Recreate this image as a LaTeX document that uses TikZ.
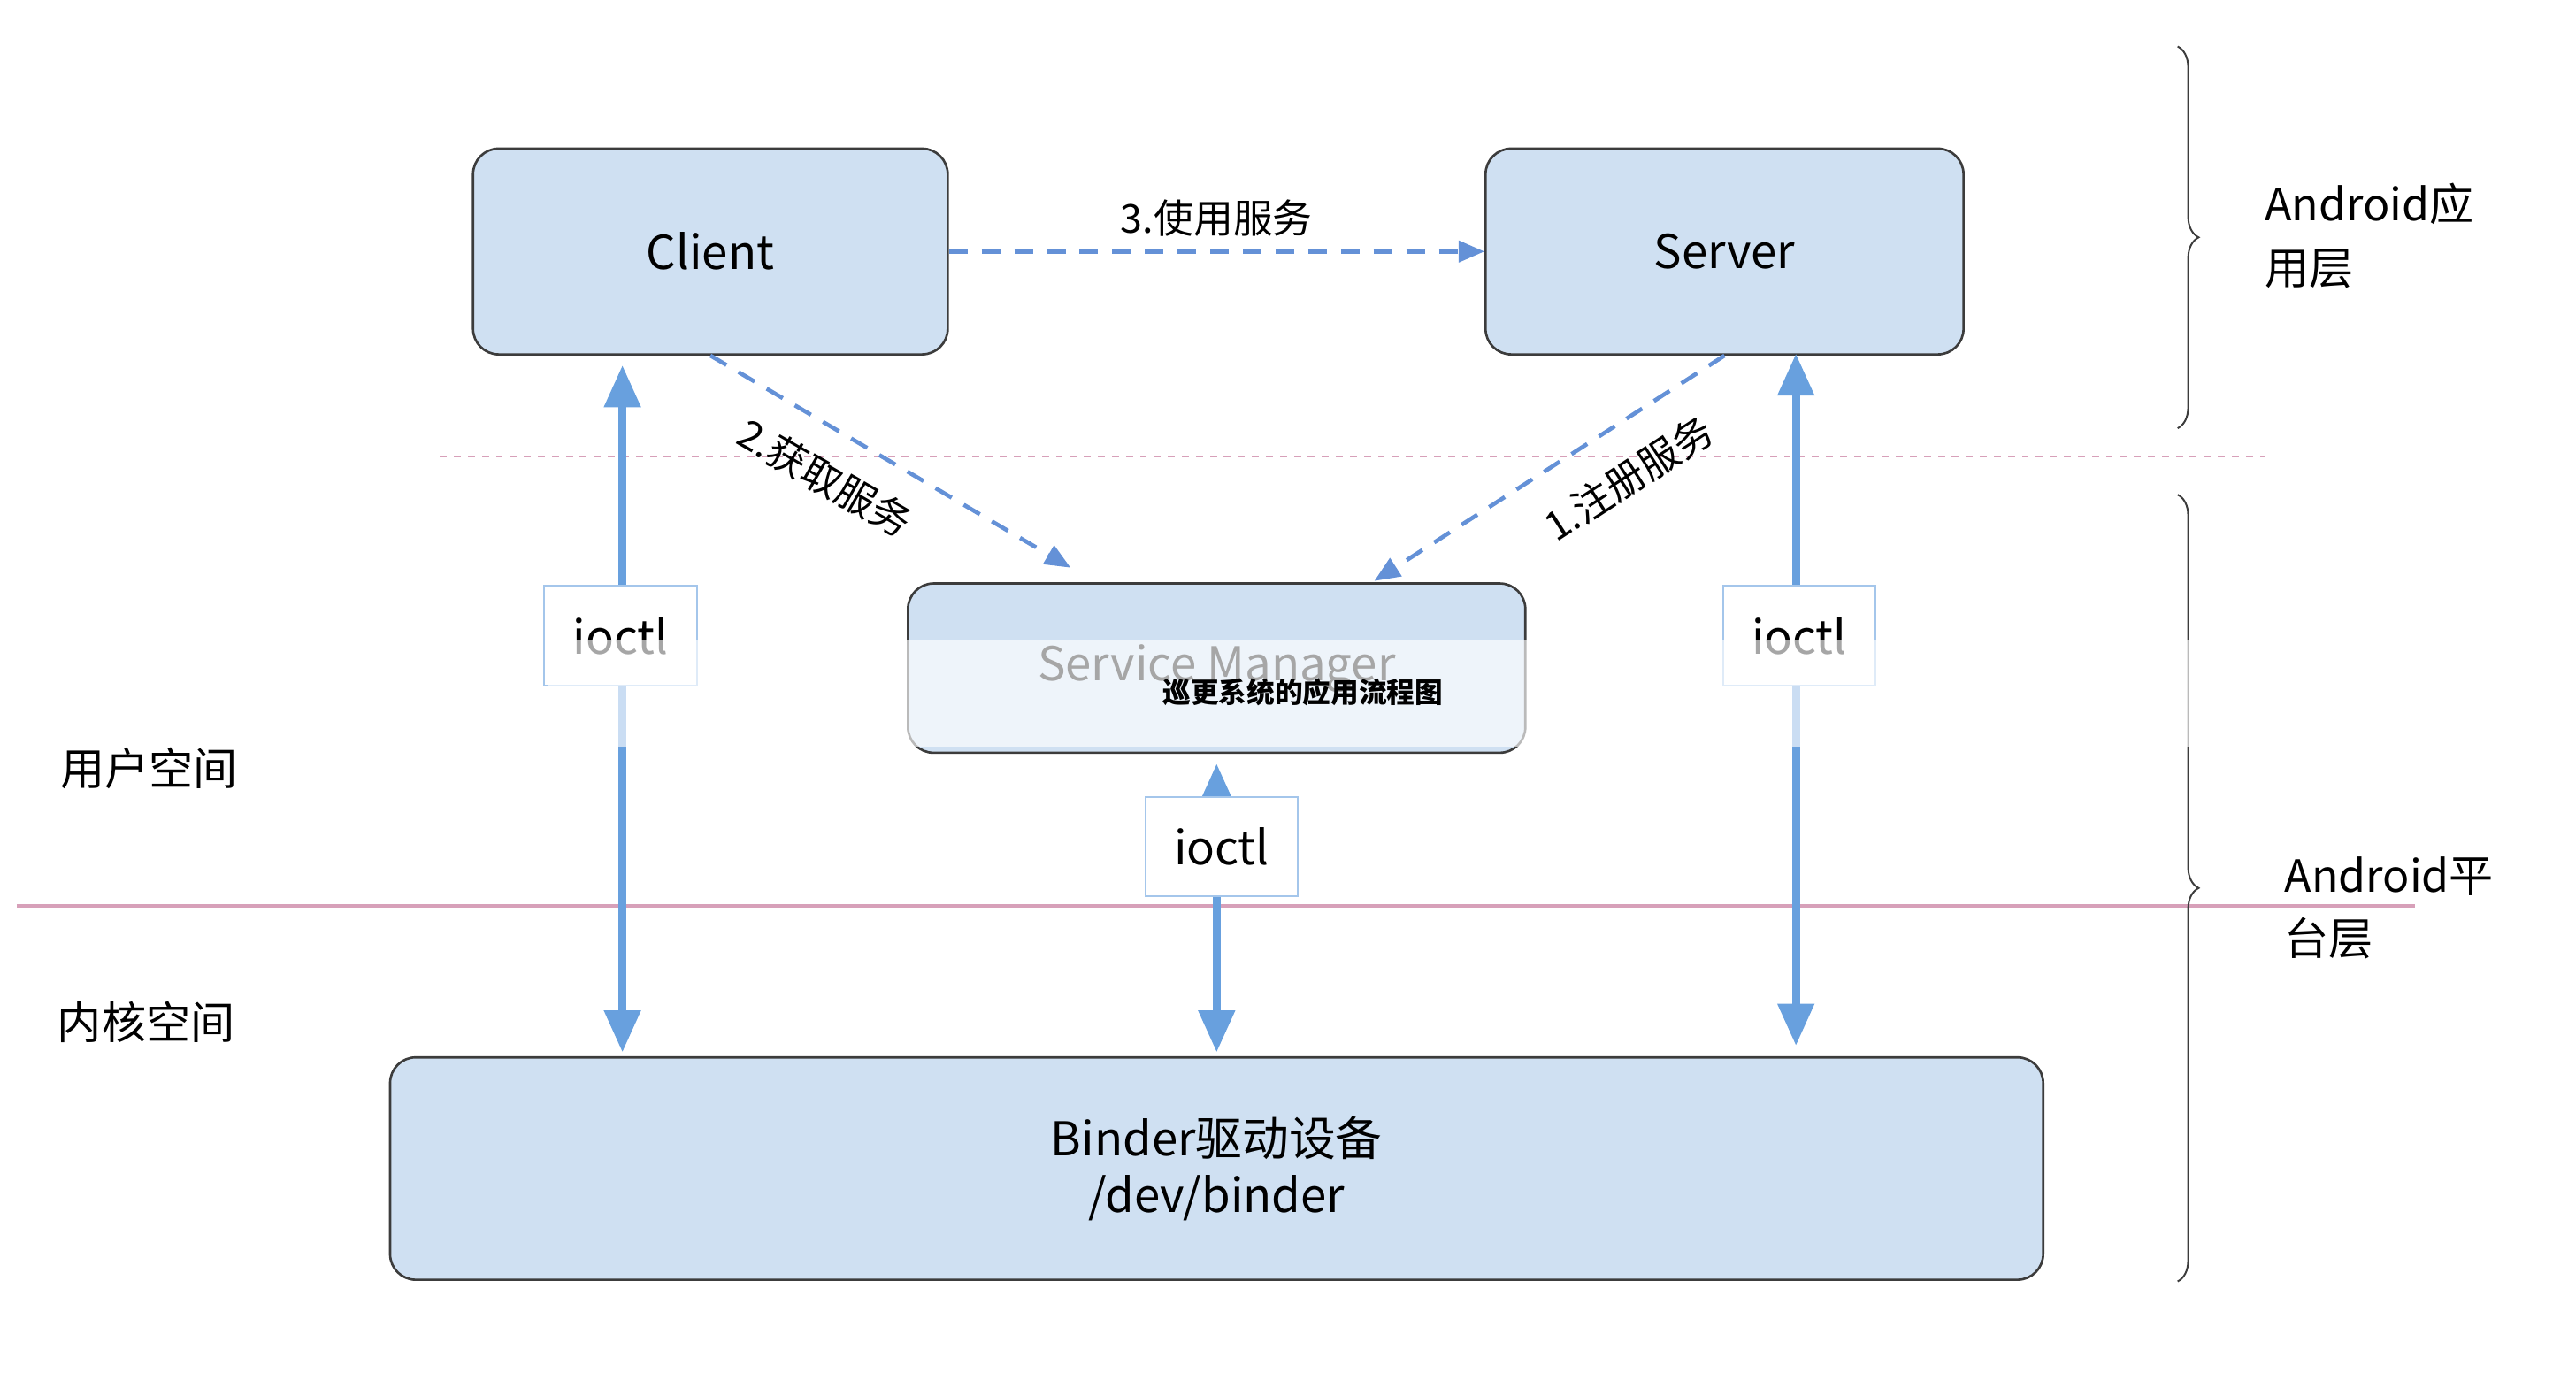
\documentclass[tikz,border=0pt]{standalone}
\usepackage{fontspec}
\setmainfont{Noto Sans CJK SC}
\usetikzlibrary{arrows.meta,decorations.pathreplacing}
\definecolor{box_blue}{RGB}{207,224,242}
\definecolor{box_gray}{RGB}{60,60,60}
\definecolor{arrow_blue}{RGB}{104,160,222}
\definecolor{dash_blue}{RGB}{100,145,215}
\definecolor{line_pink}{RGB}{215,160,185}
\begin{document}
\begin{tikzpicture}[x=0.05cm,y=-0.05cm,font=\fontsize{40}{48}\selectfont]
    \tikzstyle{comp}=[draw=box_gray, line width=2pt, rounded corners=22pt, fill=box_blue, text=black]
    \tikzstyle{ioc}=[draw=arrow_blue!60, line width=1.5pt, fill=white, minimum width=4.6cm, minimum height=3cm, inner sep=0pt]
    \tikzstyle{dbl}=[{Triangle[length=36pt,width=30pt]}-{Triangle[length=36pt,width=30pt]}, arrow_blue, line width=7pt]
    \tikzstyle{call}=[-{Triangle[length=22pt,width=18pt]}, dash_blue, line width=3.5pt, dash pattern=on 16pt off 12pt]
    \tikzstyle{lbl}=[font=\fontsize{34}{42}\selectfont, align=left, text=black]
    \useasboundingbox (0,0) rectangle (1552,827);

    \node[comp, minimum width=14.3cm, minimum height=6.2cm] (client) at (428,151.5) {Client};
    \node[comp, minimum width=14.4cm, minimum height=6.2cm] (server) at (1039,151.5) {Server};
    \node[comp, minimum width=18.6cm, minimum height=5.1cm] (sm) at (733,402.5) {Service Manager};
    \node[comp, minimum width=49.8cm, minimum height=6.7cm, align=center] (binder) at (733,704) {Binder驱动设备\\/dev/binder};

    \draw[line_pink, line width=1.5pt, dash pattern=on 6pt off 6pt] (265,275) -- (1365,275);
    \draw[line_pink, line width=3pt] (10,546) -- (1455,546);

    \coordinate (c1) at (375,220);  \coordinate (c2) at (375,634);
    \coordinate (s1) at (1082,213); \coordinate (s2) at (1082,630);
    \coordinate (m1) at (733,460);  \coordinate (m2) at (733,634);
    \draw[dbl] (c1) -- (c2);
    \draw[dbl] (s1) -- (s2);
    \draw[dbl] (m1) -- (m2);
    \node[ioc] (ioc1) at (374,383) {ioctl};
    \node[ioc] (ioc2) at (1084,383) {ioctl};
    \node[ioc] (ioc3) at (736,510) {ioctl};

    \draw[call] (client.east) -- node[above=8pt, lbl] {3.使用服务} (server.west);
    \draw[call] (client.south) -- (645,342);
    \draw[call] (server.south) -- (828,350);
    \node[lbl, rotate=-30] (get) at (497,288) {2.获取服务};
    \node[lbl, rotate=33] (reg) at (981,288) {1.注册服务};

    \draw[line width=1.5pt, box_gray, decorate, decoration={brace, amplitude=18pt}] (1312,28) -- (1312,258);
    \draw[line width=1.5pt, box_gray, decorate, decoration={brace, amplitude=18pt}] (1312,298) -- (1312,772);
    \node[lbl, anchor=west, font=\fontsize{38}{54}\selectfont] (app) at (1362,142) {Android应\\用层};
    \node[lbl, anchor=west, font=\fontsize{38}{54}\selectfont] (plat) at (1374,547) {Android平\\台层};
    \node[lbl, font=\fontsize{38}{46}\selectfont] (user) at (90,463) {用户空间};
    \node[lbl, font=\fontsize{38}{46}\selectfont] (kern) at (88,616) {内核空间};

    \fill[white, opacity=0.65] (330,386) rectangle (1330,450);
    \node[font=\fontsize{24}{28}\selectfont\bfseries] (title) at (785,417) {巡更系统的应用流程图};
\end{tikzpicture}
\end{document}
